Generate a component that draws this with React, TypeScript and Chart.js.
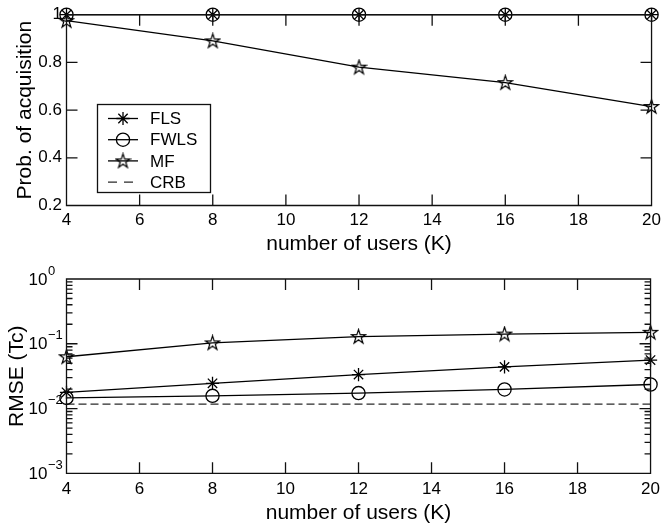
import React, { useEffect, useRef } from 'react';
import { Chart, registerables } from 'chart.js';

Chart.register(...registerables);

// ---- data ----
const users = [4, 8, 12, 16, 20];
const xTickValues = [4, 6, 8, 10, 12, 14, 16, 18, 20];

const acqFLS = [1, 1, 1, 1, 1];
const acqFWLS = [1, 1, 1, 1, 1];
const acqMF = [0.975, 0.89, 0.78, 0.715, 0.615];
const acqTickValues = [0.2, 0.4, 0.6, 0.8, 1];

const rmseFLS = [0.0178, 0.0245, 0.0335, 0.044, 0.056];
const rmseFWLS = [0.0146, 0.0157, 0.0173, 0.0197, 0.0235];
const rmseMF = [0.063, 0.103, 0.129, 0.141, 0.15];
const rmseCRB = [0.0117, 0.0117, 0.0117, 0.0117, 0.0117];
const rmseDecades = [0.001, 0.01, 0.1, 1];
const rmseDecadeExponents = ['\u22123', '\u22122', '\u22121', '0'];

const seriesLabels = ['FLS', 'FWLS', 'MF', 'CRB'];
const xTitle = 'number of users (K)';
const yTitleTop = 'Prob. of acquisition';
const yTitleBottom = 'RMSE (Tc)';

const FONT = "'Liberation Sans', Arial, Helvetica, sans-serif";
const LW = 1.3;

function pts(vals: number[]) {
  return users.map((u, i) => ({ x: u, y: vals[i] }));
}

function makePentagram(): HTMLCanvasElement {
  const c = document.createElement('canvas');
  c.width = 17;
  c.height = 17;
  const g = c.getContext('2d')!;
  const cx = 8.5, cy = 8.9, R = 7.5, r = R * 0.382;
  g.beginPath();
  for (let i = 0; i < 10; i++) {
    const ang = -Math.PI / 2 + (i * Math.PI) / 5;
    const rr = i % 2 === 0 ? R : r;
    const px = cx + rr * Math.cos(ang);
    const py = cy + rr * Math.sin(ang);
    if (i === 0) g.moveTo(px, py);
    else g.lineTo(px, py);
  }
  g.closePath();
  g.strokeStyle = '#000';
  g.lineWidth = 1.2;
  g.stroke();
  return c;
}

const MAJ = 11;
const MIN = 6;

const framePlugin = {
  id: 'frame',
  afterDatasetsDraw(chart: any) {
    const { ctx, chartArea: a, scales } = chart;
    const xs = scales.x, ys = scales.y;
    const L = a.left, R = a.right, T = a.top, B = a.bottom;
    ctx.save();
    ctx.strokeStyle = '#111';
    ctx.lineWidth = LW;
    ctx.beginPath();
    const vTick = (px: number, len: number) => {
      ctx.moveTo(px, B);
      ctx.lineTo(px, B - len);
      ctx.moveTo(px, T);
      ctx.lineTo(px, T + len);
    };
    const hTick = (py: number, len: number) => {
      ctx.moveTo(L, py);
      ctx.lineTo(L + len, py);
      ctx.moveTo(R, py);
      ctx.lineTo(R - len, py);
    };
    xTickValues.forEach((v) => vTick(xs.getPixelForValue(v), MAJ));
    if (ys.type === 'logarithmic') {
      rmseDecades.forEach((d, di) => {
        hTick(ys.getPixelForValue(d), MAJ);
        if (di < rmseDecades.length - 1) {
          for (let m = 2; m <= 9; m++) hTick(ys.getPixelForValue(d * m), MIN);
        }
      });
    } else {
      acqTickValues.forEach((v) => hTick(ys.getPixelForValue(v), MAJ));
    }
    ctx.rect(L, T, R - L, B - T);
    ctx.stroke();
    ctx.restore();
  },
};

const logLabelPlugin = {
  id: 'logLabels',
  afterDraw(chart: any) {
    const ys = chart.scales.y;
    if (ys.type !== 'logarithmic') return;
    const { ctx } = chart;
    ctx.save();
    ctx.fillStyle = '#000';
    rmseDecades.forEach((d, i) => {
      const py = ys.getPixelForValue(d);
      ctx.font = `17px ${FONT}`;
      ctx.textAlign = 'right';
      ctx.textBaseline = 'middle';
      ctx.fillText('10', 47.5, py + 1);
      ctx.font = `13px ${FONT}`;
      ctx.textAlign = 'left';
      ctx.fillText(rmseDecadeExponents[i], 48, py - 8);
    });
    ctx.restore();
  },
};

function drawMarker(ctx: CanvasRenderingContext2D, ds: any, x: number, y: number) {
  const st = ds.pointStyle;
  const r = ds.pointRadius;
  if (!r) return;
  ctx.save();
  ctx.strokeStyle = '#000';
  ctx.lineWidth = LW;
  if (st instanceof HTMLCanvasElement) {
    ctx.drawImage(st, x - st.width / 2, y - st.height / 2);
  } else if (st === 'circle') {
    ctx.beginPath();
    ctx.arc(x, y, r, 0, Math.PI * 2);
    ctx.stroke();
  } else if (st === 'star') {
    ctx.beginPath();
    for (let k = 0; k < 4; k++) {
      const ang = (k * Math.PI) / 4;
      ctx.moveTo(x - r * Math.cos(ang), y - r * Math.sin(ang));
      ctx.lineTo(x + r * Math.cos(ang), y + r * Math.sin(ang));
    }
    ctx.stroke();
  }
  ctx.restore();
}

const legendPlugin = {
  id: 'mLegend',
  afterDatasetsDraw(chart: any) {
    if (!chart.options.plugins.mLegend?.show) return;
    const { ctx } = chart;
    const left = 97.5, top = 104.5, w = 113, h = 88;
    ctx.save();
    ctx.fillStyle = '#fff';
    ctx.fillRect(left, top, w, h);
    ctx.strokeStyle = '#111';
    ctx.lineWidth = LW;
    ctx.strokeRect(left, top, w, h);
    chart.data.datasets.forEach((ds: any, i: number) => {
      const y = 118.5 + i * 21.2;
      const dashed = ds.borderDash && ds.borderDash.length > 0;
      ctx.save();
      ctx.strokeStyle = ds.borderColor;
      ctx.lineWidth = LW;
      ctx.setLineDash(dashed ? [9, 7] : []);
      ctx.beginPath();
      ctx.moveTo(108, y);
      ctx.lineTo(dashed ? 133 : 138, y);
      ctx.stroke();
      ctx.restore();
      drawMarker(ctx, ds, 123, y);
      ctx.fillStyle = '#000';
      ctx.font = `17px ${FONT}`;
      ctx.textAlign = 'left';
      ctx.textBaseline = 'middle';
      ctx.fillText(ds.label, 150, y + 1);
    });
    ctx.restore();
  },
};

function makeDatasets(vals: number[][], star: HTMLCanvasElement) {
  const styles: any[] = ['star', 'circle', star, false];
  return seriesLabels.map((label, i) => ({
    label,
    data: vals[i] ? pts(vals[i]) : [],
    borderColor: i === 3 ? '#2a2a2a' : '#000',
    backgroundColor: 'rgba(0,0,0,0)',
    borderWidth: LW,
    borderDash: i === 3 ? [8, 4] : [],
    pointStyle: styles[i] || 'circle',
    pointRadius: i === 3 ? 0 : 6.6,
    pointHoverRadius: i === 3 ? 0 : 6.6,
    pointBorderColor: '#000',
    pointBorderWidth: LW,
    pointBackgroundColor: 'rgba(0,0,0,0)',
    tension: 0,
    clip: false as any,
  }));
}

function xScale(height: number, tickPad: number) {
  return {
    type: 'linear' as const,
    min: 4,
    max: 20,
    afterBuildTicks: (s: any) => {
      s.ticks = xTickValues.map((v) => ({ value: v }));
    },
    afterFit: (s: any) => {
      s.height = height;
    },
    grid: { display: false, drawTicks: false },
    border: { display: false },
    ticks: {
      color: '#000',
      padding: tickPad,
      maxRotation: 0,
      autoSkip: false,
      font: { family: FONT, size: 17 },
    },
    title: {
      display: true,
      text: xTitle,
      color: '#000',
      padding: { top: 0, bottom: 0 },
      font: { family: FONT, size: 21 },
    },
  };
}

export default function App() {
  const topRef = useRef<HTMLCanvasElement>(null);
  const botRef = useRef<HTMLCanvasElement>(null);

  useEffect(() => {
    const star = makePentagram();
    const common = {
      responsive: false,
      animation: false as const,
      devicePixelRatio: 1,
      events: [] as any[],
    };
    const top = new Chart(topRef.current!, {
      type: 'line',
      data: { datasets: makeDatasets([acqFLS, acqFWLS, acqMF], star) as any },
      plugins: [framePlugin, legendPlugin],
      options: {
        ...common,
        layout: { padding: { left: 0, right: 13, top: 12.5, bottom: 272.5 } },
        plugins: {
          legend: { display: false },
          tooltip: { enabled: false },
          mLegend: { show: true },
        } as any,
        scales: {
          x: xScale(51, 5) as any,
          y: {
            type: 'linear',
            min: 0.2,
            max: 1,
            afterBuildTicks: (s: any) => {
              s.ticks = acqTickValues.map((v) => ({ value: v }));
            },
            afterFit: (s: any) => {
              s.width = 66.5;
            },
            grid: { display: false, drawTicks: false },
            border: { display: false },
            ticks: {
              color: '#000',
              padding: 4.5,
              font: { family: FONT, size: 17 },
              callback: (v: any) => String(Math.round(Number(v) * 10) / 10),
            },
            title: {
              display: true,
              text: yTitleTop,
              color: '#000',
              padding: { top: 13, bottom: 0 },
              font: { family: FONT, size: 21 },
            },
          },
        },
      },
    });
    const bot = new Chart(botRef.current!, {
      type: 'line',
      data: { datasets: makeDatasets([rmseFLS, rmseFWLS, rmseMF, rmseCRB], star) as any },
      plugins: [framePlugin, logLabelPlugin],
      options: {
        ...common,
        layout: { padding: { left: 0, right: 13, top: 279, bottom: 3 } },
        plugins: {
          legend: { display: false },
          tooltip: { enabled: false },
        } as any,
        scales: {
          x: xScale(52.7, 6) as any,
          y: {
            type: 'logarithmic',
            min: 0.001,
            max: 1,
            afterBuildTicks: (s: any) => {
              s.ticks = rmseDecades.map((v) => ({ value: v }));
            },
            afterFit: (s: any) => {
              s.width = 66.5;
            },
            grid: { display: false, drawTicks: false },
            border: { display: false },
            ticks: { display: false },
            title: {
              display: true,
              text: yTitleBottom,
              color: '#000',
              padding: { top: 5, bottom: 0 },
              font: { family: FONT, size: 21 },
            },
          },
        },
      },
    });
    return () => {
      top.destroy();
      bot.destroy();
    };
  }, []);

  return (
    <div style={{ position: 'absolute', left: 0, top: 0, width: 666, height: 529, background: '#fff' }}>
      <canvas ref={topRef} width={666} height={529} style={{ position: 'absolute', left: 0, top: 0, display: 'block' }} />
      <canvas ref={botRef} width={666} height={529} style={{ position: 'absolute', left: 0, top: 0, display: 'block' }} />
    </div>
  );
}
